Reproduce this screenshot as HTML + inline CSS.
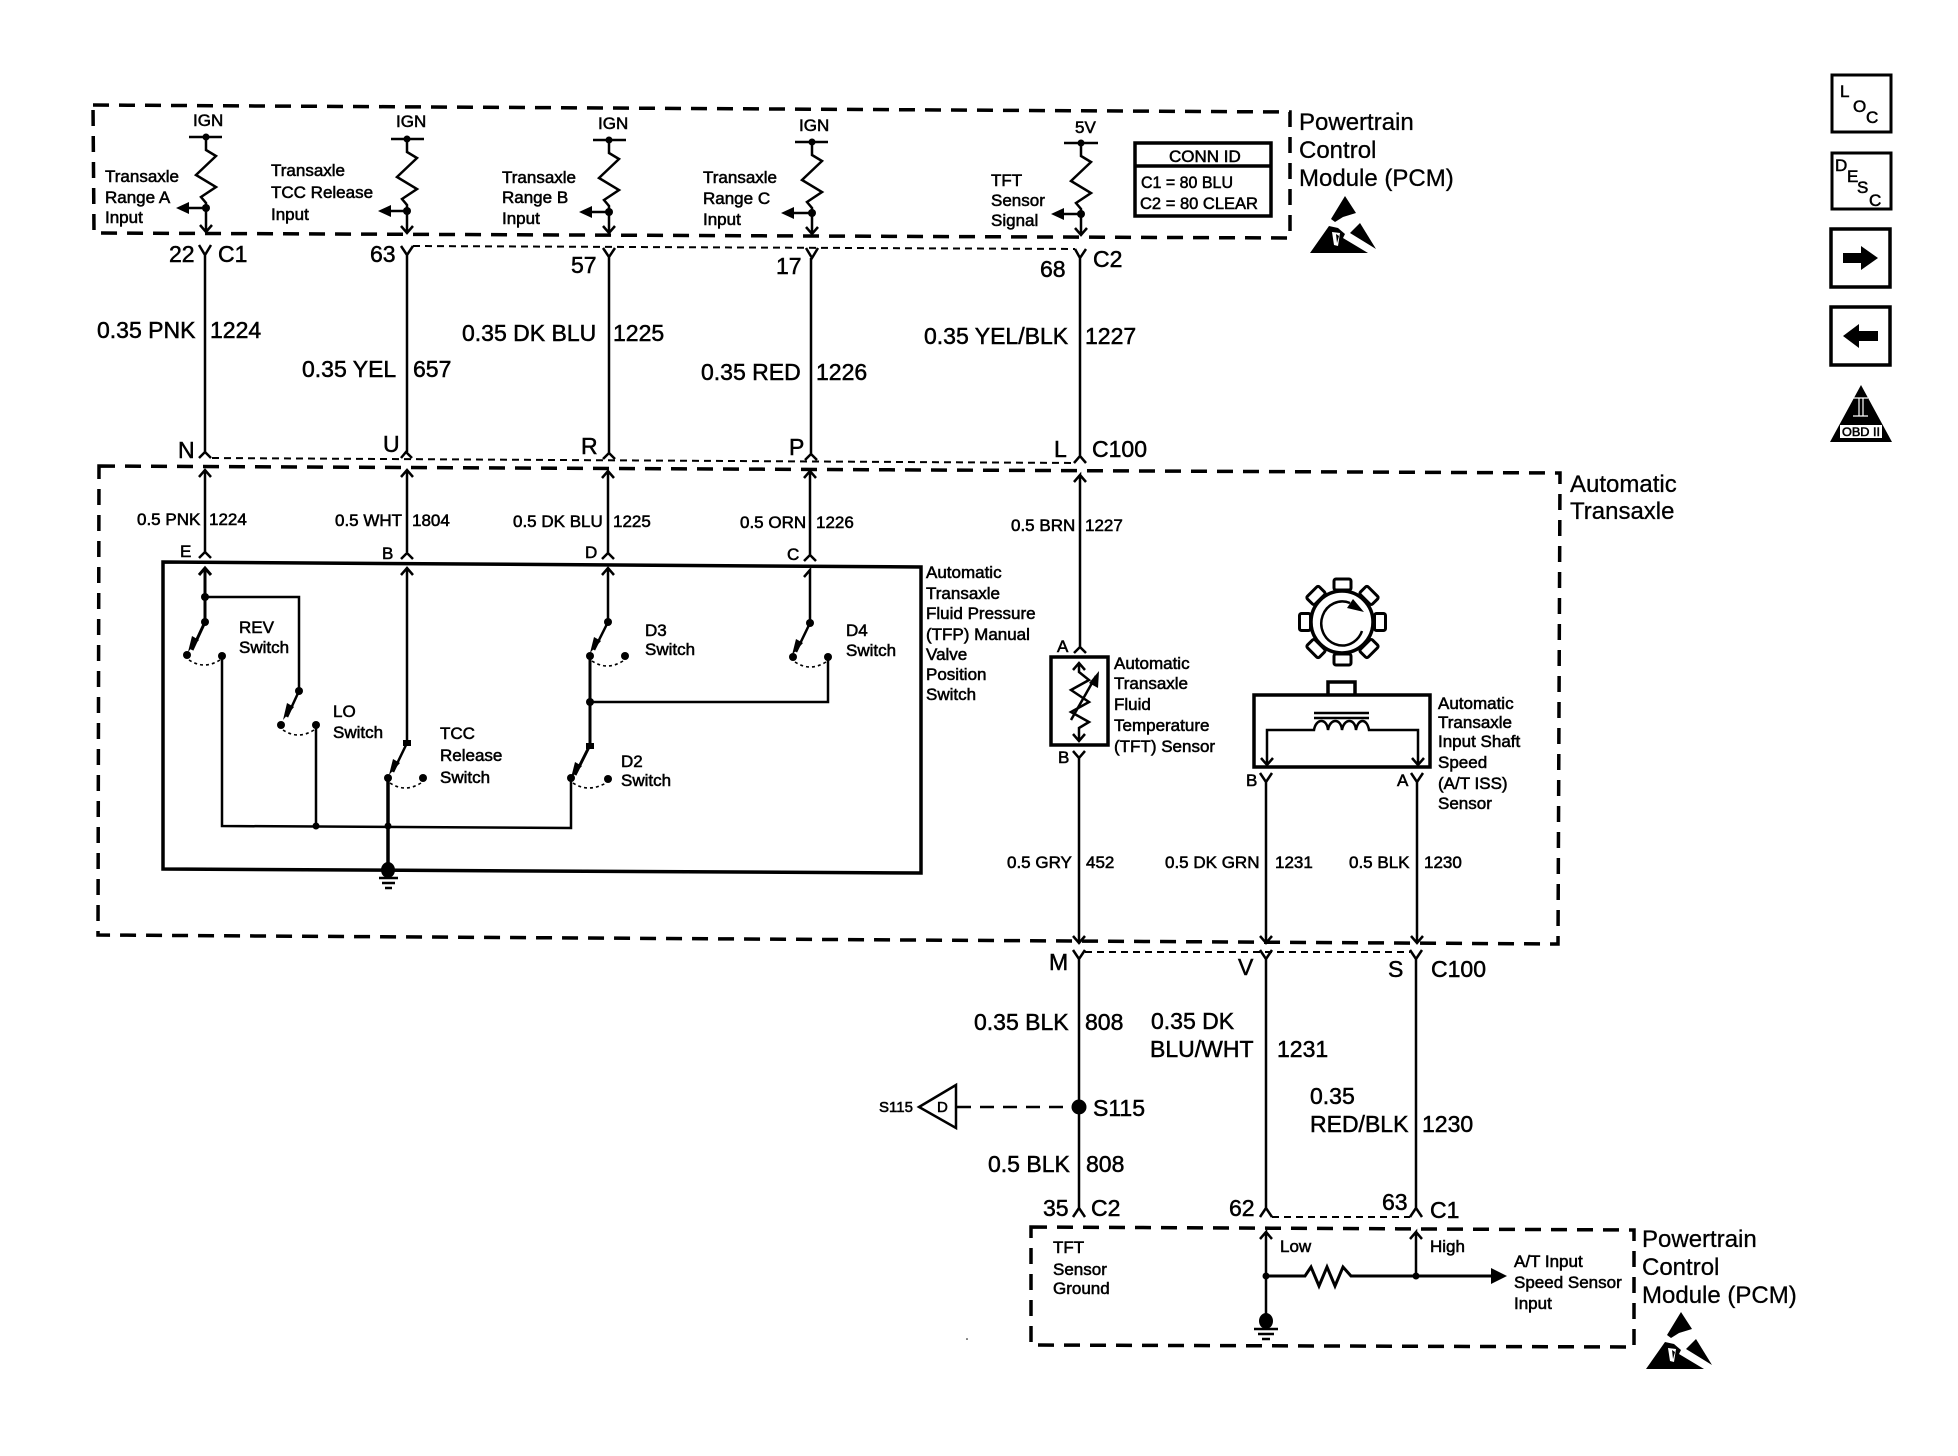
<!DOCTYPE html>
<html><head><meta charset="utf-8"><style>
html,body{margin:0;padding:0;background:#fff}
svg{display:block}
text{font-family:"Liberation Sans",sans-serif;fill:#000;stroke:#000;stroke-width:.55}
.s{font-size:17px}.m{font-size:17px}.b{font-size:23px;stroke-width:.5}.l{font-size:24px;stroke-width:.3}
.w{fill:none;stroke:#000;stroke-width:2.5}
.t{fill:none;stroke:#000;stroke-width:2}
.k{fill:none;stroke:#000;stroke-width:3.5}
.d{fill:none;stroke:#000;stroke-width:3.5;stroke-dasharray:16 10}
.f{fill:none;stroke:#000;stroke-width:2;stroke-dasharray:7 5}
.a{fill:none;stroke:#000;stroke-width:1.6;stroke-dasharray:3 3}
</style></head><body>
<svg width="1958" height="1456" viewBox="0 0 1958 1456" xmlns="http://www.w3.org/2000/svg">
<rect width="1958" height="1456" fill="#fff"/>

<!-- dashed boxes -->
<path class="d" d="M93 105L1290 112V238L94 233Z"/>
<path class="d" d="M99 466L1560 473L1558 944L98 935Z"/>
<path class="d" d="M1031 1227L1634 1230V1347L1031 1345Z"/>

<!-- thin connector dashes -->
<path class="f" d="M413 246L1075 249"/>
<path class="f" d="M212 458L1075 463"/>
<path class="f" d="M1085 952H1410"/>
<path class="f" d="M1272 1217H1410"/>

<!-- top pull-up circuits -->
<g class="w">
<path d="M189 137H222M206 137V150L216 156L196 175L216 187L201 197L206 203V232M200 225L206 232L212 225M206 208H185"/>
<path d="M391 139H424M407 139V152L417 158L397 177L417 189L402 199L407 205V233M401 226L407 233L413 226M407 211H386"/>
<path d="M593 140H626M609 140V153L619 159L599 178L619 190L604 200L609 206V233M603 226L609 233L615 226M609 212H588"/>
<path d="M795 142H828M812 142V155L822 161L802 180L822 192L807 202L812 208V234M806 227L812 234L818 227M812 213H791"/>
<path d="M1064 143H1098M1081 143V156L1091 162L1071 181L1091 193L1076 203L1081 209V235M1075 228L1081 235L1087 228M1081 214H1060"/>
</g>
<g>
<path d="M176 208L189 202V214Z"/><path d="M378 211L391 205V217Z"/><path d="M579 212L592 206V218Z"/><path d="M781 213L794 207V219Z"/><path d="M1051 214L1064 208V220Z"/>
<circle cx="206" cy="137" r="3.5"/><circle cx="407" cy="139" r="3.5"/><circle cx="609" cy="140" r="3.5"/><circle cx="812" cy="142" r="3.5"/><circle cx="1081" cy="143" r="3.5"/>
<circle cx="206" cy="208" r="4"/><circle cx="407" cy="211" r="4"/><circle cx="609" cy="212" r="4"/><circle cx="812" cy="213" r="4"/><circle cx="1081" cy="214" r="4"/>
</g>

<!-- main vertical wires upper -->
<g class="w">
<path d="M199 245L205 255L211 245M205 255V452M199 458L205 452L211 458"/>
<path d="M401 246L407 255L413 246M407 255V452M401 458L406 452L412 458"/>
<path d="M603 248L609 257L615 248M609 257V453M603 459L609 453L615 459"/>
<path d="M806 248L812 258L818 248M811 258V454M805 460L811 454L817 460"/>
<path d="M1075 249L1080 258L1086 249M1080 258V456M1074 463L1080 456L1086 463"/>
</g>
<!-- lower arrows into transaxle -->
<g class="w">
<path d="M199 477L205 470L211 477M205 470V552M199 558L205 552L211 558"/>
<path d="M401 477L407 470L413 477M407 470V552M401 559L407 553L413 559"/>
<path d="M602 478L608 471L614 478M608 471V553M602 559L608 553L614 559"/>
<path d="M804 478L810 471L816 478M810 471V555M804 561L810 555L816 561"/>
<path d="M1074 482L1080 475V647M1086 482L1080 475M1074 653L1080 647L1086 653"/>
</g>

<!-- switch box -->
<path class="k" d="M163 562L921 567V873L163 869Z"/>
<!-- switches -->
<g class="w">
<path stroke-width="3" d="M199 575L205 568L211 575M205 568V622L192 650"/>
<path d="M205 597H299V691L287 717"/>
<path d="M222 656V826L571 828V778"/>
<path d="M316 725V826"/>
<path d="M401 575L407 568L413 575M407 568V743L393 772"/>
<path d="M388 778V869" stroke-width="3.5"/>
<path d="M602 575L608 568L614 575M608 568V622L594 650"/>
<path d="M590 656V745L575 775" stroke-width="3"/>
<path d="M590 702H828V657"/>
<path d="M804 577L810 570V623L796 652"/>
<path d="M379 878H398M382 883H395M385 888H392"/>
<path d="M388 869V878"/>
</g>
<g>
<path d="M188 652L192 636L199 640Z"/><path d="M283 720L287 703L294 707Z"/><path d="M389 775L393 759L400 763Z"/><path d="M590 653L594 637L601 641Z"/><path d="M792 655L796 639L803 643Z"/><path d="M571 778L575 762L582 766Z"/>
<circle cx="205" cy="597" r="4"/><circle cx="205" cy="622" r="4"/><circle cx="187" cy="655" r="4"/><circle cx="222" cy="656" r="4"/>
<circle cx="299" cy="691" r="4"/><circle cx="281" cy="725" r="4"/><circle cx="316" cy="725" r="4"/><circle cx="316" cy="826" r="3.5"/>
<rect x="403" y="740" width="8" height="6"/><circle cx="388" cy="778" r="4"/><circle cx="423" cy="778" r="4"/><circle cx="388" cy="826" r="3.5"/>
<circle cx="608" cy="622" r="4"/><circle cx="590" cy="656" r="4"/><circle cx="625" cy="656" r="4"/><circle cx="590" cy="702" r="4"/>
<rect x="586" y="743" width="8" height="6"/><circle cx="571" cy="778" r="4"/><circle cx="608" cy="779" r="4"/>
<circle cx="810" cy="623" r="4"/><circle cx="793" cy="657" r="4"/><circle cx="828" cy="657" r="4"/>
<ellipse cx="388" cy="870" rx="7" ry="8"/>
</g>
<g class="a">
<path d="M189 660Q204 670 220 660"/><path d="M283 730Q298 740 314 730"/><path d="M390 783Q405 793 421 783"/><path d="M592 661Q607 671 623 661"/><path d="M795 662Q810 672 826 662"/><path d="M573 783Q588 793 606 783"/>
</g>

<!-- TFT sensor -->
<path class="k" d="M1051 657H1108V745H1051Z"/>
<g class="w">
<path d="M1073 670L1079 663L1085 670M1079 663V672L1089 680L1071 690L1089 702L1071 712L1089 722L1079 728V741M1073 734L1079 741L1085 734"/>
<path d="M1071 720L1096 676"/>
<path d="M1073 751L1079 758L1085 751M1079 758V943M1073 936L1079 943L1085 936"/>
</g>
<path d="M1099 671L1098 688L1089 683Z"/>

<!-- gear + ISS sensor -->
<g>
<circle cx="1342" cy="622" r="31" class="k"/>
<g fill="none" stroke="#000" stroke-width="3">
<rect x="1334" y="579" width="17" height="11" rx="2"/>
<rect x="1334" y="579" width="17" height="11" rx="2" transform="rotate(45 1342.5 622)"/>
<rect x="1334" y="579" width="17" height="11" rx="2" transform="rotate(90 1342.5 622)"/>
<rect x="1334" y="579" width="17" height="11" rx="2" transform="rotate(135 1342.5 622)"/>
<rect x="1334" y="579" width="17" height="11" rx="2" transform="rotate(180 1342.5 622)"/>
<rect x="1334" y="579" width="17" height="11" rx="2" transform="rotate(225 1342.5 622)"/>
<rect x="1334" y="579" width="17" height="11" rx="2" transform="rotate(270 1342.5 622)"/>
<rect x="1334" y="579" width="17" height="11" rx="2" transform="rotate(315 1342.5 622)"/>
</g>
<path class="w" stroke-width="3" d="M1362 631A21 22 0 1 1 1350 603"/>
<path d="M1364 612L1347 608L1353 599Z"/>
</g>
<path class="k" d="M1254 695H1430V767H1254Z"/>
<path class="k" stroke-width="3" d="M1328 695V682H1355V695"/>
<path class="w" d="M1314 713H1369M1314 718H1369" stroke-width="2"/>
<path class="w" d="M1267 765V730H1314C1316 718 1327 718 1328 730C1330 718 1341 718 1342 730C1344 718 1355 718 1356 730C1358 718 1367 718 1369 730H1418V765M1261 758L1267 765L1273 758M1412 758L1418 765L1424 758"/>
<g class="w">
<path d="M1260 773L1266 782L1272 773M1266 782V943M1260 936L1266 943L1272 936"/>
<path d="M1411 773L1417 782L1423 773M1417 782V943M1411 936L1417 943L1423 936"/>
</g>

<!-- lower wires -->
<g class="w">
<path d="M1073 950L1079 959L1085 950M1079 959V1208M1073 1217L1079 1208L1085 1217"/>
<path d="M1260 950L1266 959L1272 950M1266 959V1208M1260 1217L1266 1208L1272 1217"/>
<path d="M1410 950L1416 959L1422 950M1416 959V1208M1410 1217L1416 1208L1422 1217"/>
</g>
<circle cx="1079" cy="1107" r="7.5"/>
<path d="M957 1107H1078" fill="none" stroke="#000" stroke-width="2.5" stroke-dasharray="14 9"/>
<path class="w" d="M919 1107L956 1085V1128Z"/>

<!-- bottom PCM internals -->
<g class="w">
<path d="M1260 1239L1266 1232V1322M1272 1239L1266 1232"/>
<path d="M1410 1239L1416 1232V1276M1422 1239L1416 1232"/>
<path d="M1266 1276H1305L1311 1267L1319 1286L1327 1267L1335 1286L1343 1267L1351 1276H1495" stroke-width="3"/>
<path d="M1254 1329H1278M1258 1334H1274M1262 1339H1270"/>
</g>
<path d="M1507 1276L1491 1268V1284Z"/>
<circle cx="1266" cy="1276" r="3.5"/><circle cx="1416" cy="1276" r="3.5"/>
<ellipse cx="1266" cy="1321" rx="7" ry="8"/>
<circle cx="967" cy="1339" r=".8"/>

<!-- CONN ID -->
<path class="k" d="M1135 143H1271V216H1135ZM1135 166H1271"/>

<!-- ESD symbols -->
<g id="esd1">
<path d="M1345 196L1356 213L1343 217L1335 222L1331 219Z"/>
<path d="M1360 223L1376 249L1350 233Z"/>
<path d="M1329 226L1338 228L1345 234L1343 238L1368 253H1310Z"/>
<path d="M1332 232L1340 233L1338 246L1334 245Z" fill="#fff"/>
<path d="M1336 234L1339 236L1337 243Z"/>
</g>
<g transform="translate(336 1116)">
<path d="M1345 196L1356 213L1343 217L1335 222L1331 219Z"/>
<path d="M1360 223L1376 249L1350 233Z"/>
<path d="M1329 226L1338 228L1345 234L1343 238L1368 253H1310Z"/>
<path d="M1332 232L1340 233L1338 246L1334 245Z" fill="#fff"/>
<path d="M1336 234L1339 236L1337 243Z"/>
</g>

<!-- right icons -->
<g fill="#fff" stroke="#000">
<path d="M1832 75H1891V132H1832Z" stroke-width="3"/>
<path d="M1832 153H1891V209H1832Z" stroke-width="3"/>
<path d="M1831 229H1890V287H1831Z" stroke-width="3.5"/>
<path d="M1831 307H1890V365H1831Z" stroke-width="3.5"/>
</g>
<path d="M1843 253H1861V246L1878 258L1861 270V263H1843Z"/>
<path d="M1843 336L1859 324V331H1878V341H1859V348Z"/>
<path d="M1861 385L1892 442H1830Z"/>
<path d="M1853 398H1868M1853 416H1868M1859 398V416M1863 398V416" stroke="#fff" stroke-width="1.2" fill="none"/>
<rect x="1840" y="425" width="42" height="13" fill="#fff"/>

<!-- text: top -->
<text class="s" x="193" y="126">IGN</text><text class="s" x="396" y="127">IGN</text><text class="s" x="598" y="129">IGN</text><text class="s" x="799" y="131">IGN</text><text class="s" x="1075" y="133">5V</text>
<text class="s" x="105" y="182">Transaxle</text><text class="s" x="105" y="203">Range A</text><text class="s" x="105" y="223">Input</text>
<text class="s" x="271" y="176">Transaxle</text><text class="s" x="271" y="198">TCC Release</text><text class="s" x="271" y="220">Input</text>
<text class="s" x="502" y="183">Transaxle</text><text class="s" x="502" y="203">Range B</text><text class="s" x="502" y="224">Input</text>
<text class="s" x="703" y="183">Transaxle</text><text class="s" x="703" y="204">Range C</text><text class="s" x="703" y="225">Input</text>
<text class="s" x="991" y="186">TFT</text><text class="s" x="991" y="206">Sensor</text><text class="s" x="991" y="226">Signal</text>
<text class="m" x="1169" y="162">CONN ID</text>
<text class="m" x="1141" y="188" textLength="92" lengthAdjust="spacingAndGlyphs">C1 = 80 BLU</text>
<text class="m" x="1140" y="209" textLength="118" lengthAdjust="spacingAndGlyphs">C2 = 80 CLEAR</text>
<text class="l" x="1299" y="130">Powertrain</text><text class="l" x="1299" y="158">Control</text><text class="l" x="1299" y="186">Module (PCM)</text>

<text class="b" x="169" y="262">22</text><text class="b" x="218" y="262">C1</text><text class="b" x="370" y="262">63</text><text class="b" x="571" y="273">57</text><text class="b" x="776" y="274">17</text><text class="b" x="1040" y="277">68</text><text class="b" x="1093" y="267">C2</text>
<text class="b" x="97" y="338">0.35 PNK</text><text class="b" x="210" y="338">1224</text>
<text class="b" x="302" y="377">0.35 YEL</text><text class="b" x="413" y="377">657</text>
<text class="b" x="462" y="341">0.35 DK BLU</text><text class="b" x="613" y="341">1225</text>
<text class="b" x="701" y="380">0.35 RED</text><text class="b" x="816" y="380">1226</text>
<text class="b" x="924" y="344">0.35 YEL/BLK</text><text class="b" x="1085" y="344">1227</text>
<text class="b" x="178" y="458">N</text><text class="b" x="383" y="452">U</text><text class="b" x="581" y="454">R</text><text class="b" x="789" y="455">P</text><text class="b" x="1054" y="457">L</text><text class="b" x="1092" y="457">C100</text>

<text class="l" x="1570" y="492">Automatic</text><text class="l" x="1570" y="519">Transaxle</text>

<!-- text: middle -->
<text class="m" x="137" y="525">0.5 PNK</text><text class="m" x="209" y="525">1224</text>
<text class="m" x="335" y="526">0.5 WHT</text><text class="m" x="412" y="526">1804</text>
<text class="m" x="513" y="527">0.5 DK BLU</text><text class="m" x="613" y="527">1225</text>
<text class="m" x="740" y="528">0.5 ORN</text><text class="m" x="816" y="528">1226</text>
<text class="m" x="1011" y="531">0.5 BRN</text><text class="m" x="1085" y="531">1227</text>
<text class="m" x="180" y="557">E</text><text class="m" x="382" y="559">B</text><text class="m" x="585" y="558">D</text><text class="m" x="787" y="560">C</text>
<text class="s" x="239" y="633">REV</text><text class="s" x="239" y="653">Switch</text>
<text class="s" x="333" y="717">LO</text><text class="s" x="333" y="738">Switch</text>
<text class="s" x="440" y="739">TCC</text><text class="s" x="440" y="761">Release</text><text class="s" x="440" y="783">Switch</text>
<text class="s" x="645" y="636">D3</text><text class="s" x="645" y="655">Switch</text>
<text class="s" x="846" y="636">D4</text><text class="s" x="846" y="656">Switch</text>
<text class="s" x="621" y="767">D2</text><text class="s" x="621" y="786">Switch</text>
<text class="s" x="926" y="578">Automatic</text><text class="s" x="926" y="599">Transaxle</text><text class="s" x="926" y="619">Fluid Pressure</text><text class="s" x="926" y="640">(TFP) Manual</text><text class="s" x="926" y="660">Valve</text><text class="s" x="926" y="680">Position</text><text class="s" x="926" y="700">Switch</text>
<text class="m" x="1057" y="652">A</text><text class="m" x="1058" y="763">B</text>
<text class="s" x="1114" y="669">Automatic</text><text class="s" x="1114" y="689">Transaxle</text><text class="s" x="1114" y="710">Fluid</text><text class="s" x="1114" y="731">Temperature</text><text class="s" x="1114" y="752">(TFT) Sensor</text>
<text class="m" x="1246" y="786">B</text><text class="m" x="1397" y="786">A</text>
<text class="s" x="1438" y="709">Automatic</text><text class="s" x="1438" y="728">Transaxle</text><text class="s" x="1438" y="747">Input Shaft</text><text class="s" x="1438" y="768">Speed</text><text class="s" x="1438" y="789">(A/T ISS)</text><text class="s" x="1438" y="809">Sensor</text>
<text class="m" x="1007" y="868">0.5 GRY</text><text class="m" x="1086" y="868">452</text>
<text class="m" x="1165" y="868">0.5 DK GRN</text><text class="m" x="1275" y="868">1231</text>
<text class="m" x="1349" y="868">0.5 BLK</text><text class="m" x="1424" y="868">1230</text>

<!-- text: bottom -->
<text class="b" x="1049" y="970">M</text><text class="b" x="1238" y="975">V</text><text class="b" x="1388" y="977">S</text><text class="b" x="1431" y="977">C100</text>
<text class="b" x="974" y="1030">0.35 BLK</text><text class="b" x="1085" y="1030">808</text>
<text class="b" x="1151" y="1029">0.35 DK</text><text class="b" x="1150" y="1057">BLU/WHT</text><text class="b" x="1277" y="1057">1231</text>
<text class="b" x="1310" y="1104">0.35</text><text class="b" x="1310" y="1132">RED/BLK</text><text class="b" x="1422" y="1132">1230</text>
<text class="b" x="1093" y="1116">S115</text>
<text style="font-size:15px" x="879" y="1112">S115</text><text style="font-size:15px" x="937" y="1112">D</text>
<text class="b" x="988" y="1172">0.5 BLK</text><text class="b" x="1086" y="1172">808</text>
<text class="b" x="1043" y="1216">35</text><text class="b" x="1091" y="1216">C2</text><text class="b" x="1229" y="1216">62</text><text class="b" x="1382" y="1210">63</text><text class="b" x="1430" y="1218">C1</text>
<text class="s" x="1280" y="1252">Low</text><text class="s" x="1430" y="1252">High</text>
<text class="s" x="1053" y="1253">TFT</text><text class="s" x="1053" y="1275">Sensor</text><text class="s" x="1053" y="1294">Ground</text>
<text class="s" x="1514" y="1267">A/T Input</text><text class="s" x="1514" y="1288">Speed Sensor</text><text class="s" x="1514" y="1309">Input</text>
<text class="l" x="1642" y="1247">Powertrain</text><text class="l" x="1642" y="1275">Control</text><text class="l" x="1642" y="1303">Module (PCM)</text>

<!-- icon text -->
<text class="m" x="1840" y="97">L</text><text class="m" x="1853" y="112">O</text><text class="m" x="1866" y="123">C</text>
<text class="m" x="1835" y="171">D</text><text class="m" x="1847" y="182">E</text><text class="m" x="1857" y="193">S</text><text class="m" x="1869" y="206">C</text>
<text x="1842" y="436" style="font-size:12px" textLength="38" lengthAdjust="spacingAndGlyphs">OBD II</text>
</svg>
</body></html>
